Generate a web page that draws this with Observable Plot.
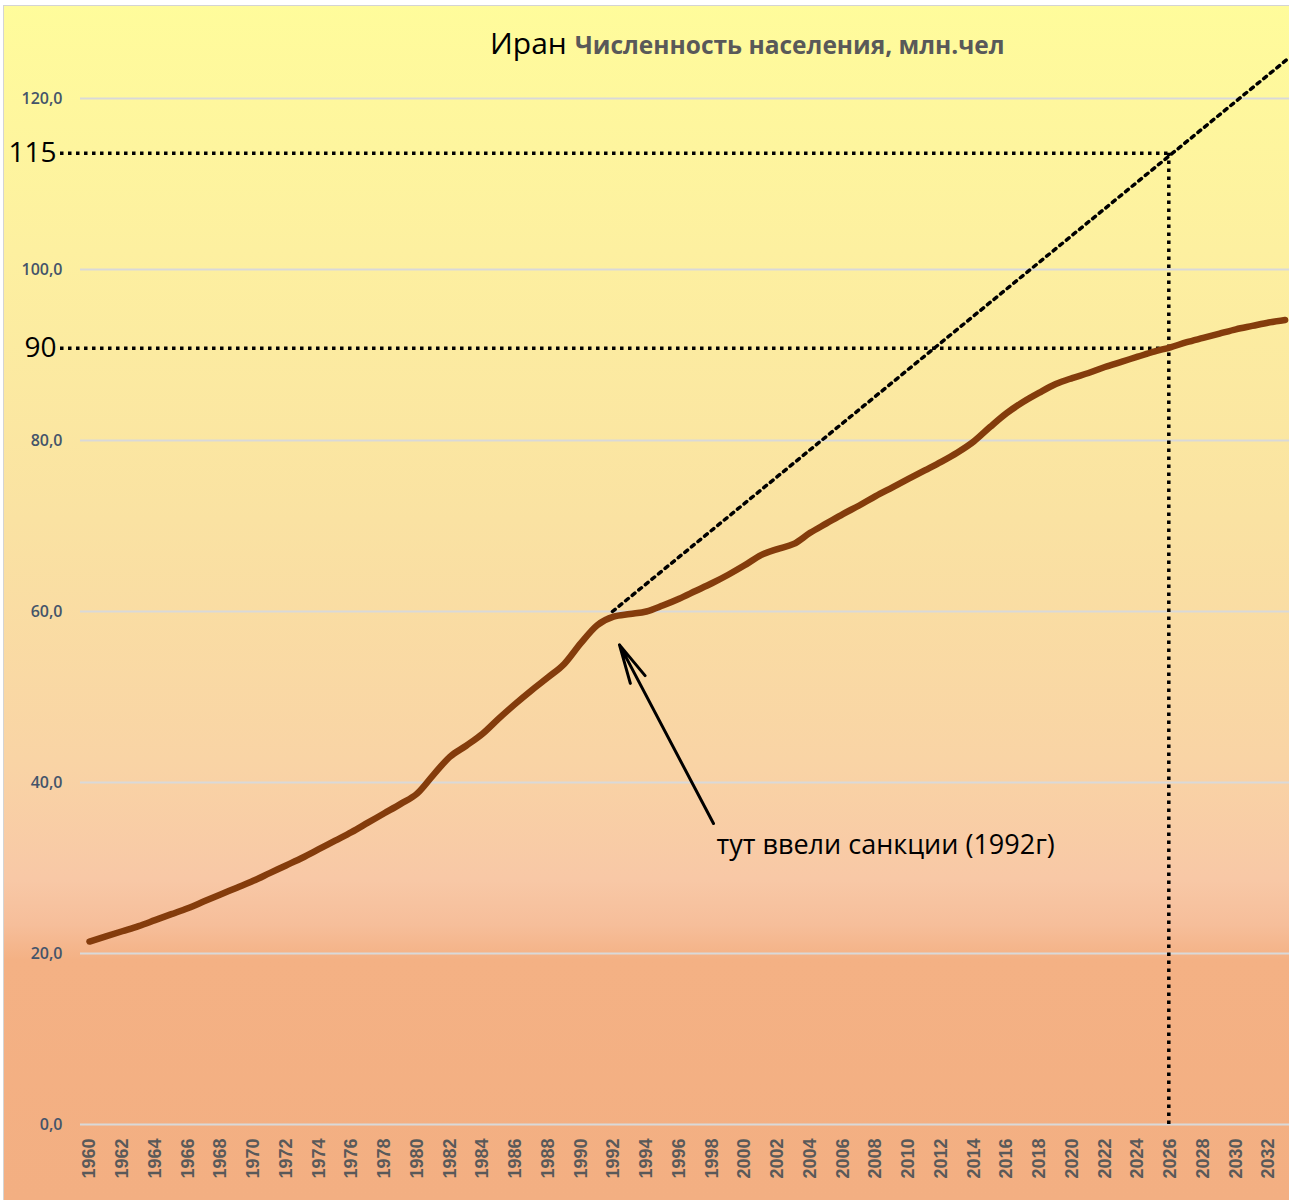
<!DOCTYPE html>
<html>
<head>
<meta charset="utf-8">
<script src="https://cdn.jsdelivr.net/npm/d3@7"></script>
<script src="https://cdn.jsdelivr.net/npm/@observablehq/plot@0.6"></script>
<style>
  body { margin: 0; background: #fff; }
  #wrap {
    position: relative; width: 1289px; height: 1200px; overflow: hidden;
    background: linear-gradient(to bottom, #FFFC9B 0px, #FDF0A0 250px, #FAE2A2 520px, #F9D4A5 760px, #F8C8A6 880px, #F6BE9A 925px, #F4B184 960px, #F3AF82 1200px);
    box-shadow: inset 3px 5px 0 #ffffff, inset 4px 6px 0 #d4d4d4;
  }
  #chart svg { display: block; }
  #title { position: absolute; left: 490px; top: 28px; white-space: nowrap; font-family: "Open Sans", sans-serif; line-height: 1; }
  #title .main { font-size: 30px; color: #000; }
  #title .sub { font-size: 24.5px; font-weight: bold; color: #595959; margin-left: 4px; }
</style>
</head>
<body>
<div id="wrap">
  <div id="chart"></div>
  <div id="title"><span class="main">Иран</span> <span class="sub">Численность населения, млн.чел</span></div>
</div>
<script>
// ---- data ----
const years = [1960,1961,1962,1963,1964,1965,1966,1967,1968,1969,
  1970,1971,1972,1973,1974,1975,1976,1977,1978,1979,
  1980,1981,1982,1983,1984,1985,1986,1987,1988,1989,
  1990,1991,1992,1993,1994,1995,1996,1997,1998,1999,
  2000,2001,2002,2003,2004,2005,2006,2007,2008,2009,
  2010,2011,2012,2013,2014,2015,2016,2017,2018,2019,
  2020,2021,2022,2023,2024,2025,2026,2027,2028,2029,
  2030,2031,2032,2033];
const population = [21.4,22.0,22.6,23.2,23.9,24.6,25.3,26.1,26.9,27.7,
  28.5,29.4,30.3,31.2,32.2,33.2,34.2,35.3,36.4,37.5,
  38.7,40.9,43.0,44.3,45.7,47.5,49.2,50.8,52.3,53.9,
  56.3,58.4,59.4,59.7,60.0,60.7,61.5,62.4,63.3,64.3,
  65.4,66.6,67.3,67.9,69.2,70.3,71.4,72.4,73.5,74.5,
  75.5,76.5,77.5,78.6,79.9,81.6,83.2,84.5,85.6,86.6,
  87.3,87.9,88.6,89.2,89.8,90.4,90.9,91.5,92.0,92.5,
  93.0,93.4,93.8,94.1];
const xTickYears = [1960,1962,1964,1966,1968,1970,1972,1974,1976,1978,
  1980,1982,1984,1986,1988,1990,1992,1994,1996,1998,
  2000,2002,2004,2006,2008,2010,2012,2014,2016,2018,
  2020,2022,2024,2026,2028,2030,2032];
const yTickValues = [0,20,40,60,80,100,120];

// trend (hand-drawn dotted extrapolation from 1992)
const trendYears = [1991.93, 2033.27];
const trendValues = [60.0, 124.8];
// reference levels (as drawn) and their labels
const refLevels = [113.6, 90.8];
const refLabels = ["115", "90"];
const refStartYear = 1958.23;
const refYear = 2025.9;
// annotation
const noteText = ["тут ввели санкции (1992г)"];
const noteYear = [1998.28];
const noteValue = [32.6];
const arrowFrom = [1998.1, 35.2];
const arrowTo = [1992.36, 56.1];

// ---- build ----
const data = years.map((year, i) => ({year, value: population[i]}));
const trend = trendYears.map((year, i) => ({year, value: trendValues[i]}));
const refs = refLevels.map((v, i) => ({value: v, label: refLabels[i]}));
const dots = {stroke: "#000", strokeWidth: 3.5, strokeDasharray: "3.5,4.5"};

const chart = Plot.plot({
  width: 1289,
  height: 1200,
  marginLeft: 80,
  marginRight: 0,
  marginTop: 98,
  marginBottom: 76,
  style: {background: "transparent", overflow: "visible"},
  x: {domain: [1959.45, 2033.27], label: null},
  y: {domain: [0, 120], label: null},
  marks: [
    Plot.gridY(yTickValues, {stroke: "#D9D9D9", strokeOpacity: 1, strokeWidth: 2}),
    Plot.axisY(yTickValues, {
      tickSize: 0, tickPadding: 18,
      tickFormat: d => d.toFixed(1).replace(".", ","),
      fontSize: 16, fontWeight: 600, fontFamily: "Open Sans", fill: "#44546A", label: null
    }),
    Plot.axisX(xTickYears, {
      tickSize: 0, tickPadding: 14, tickRotate: -90,
      tickFormat: d => String(d),
      fontSize: 18, fontWeight: "bold", fontFamily: "Liberation Sans", fill: "#595959", label: null
    }),
    Plot.line(trend, {x: "year", y: "value", ...dots, strokeDasharray: "3.5,5"}),
    Plot.ruleY(refs, {y: "value", x1: refStartYear, x2: refYear, ...dots}),
    Plot.ruleX([refYear], {y1: 0, y2: refLevels[0], ...dots}),
    Plot.text(refs, {y: "value", x: 1957.98, text: "label", textAnchor: "end", fontSize: 28, fontFamily: "Open Sans", fill: "#000"}),
    Plot.line(data, {x: "year", y: "value", stroke: "#843C0C", strokeWidth: 6.5, curve: "monotone-x", strokeLinecap: "round"}),
    Plot.arrow([0], {x1: arrowFrom[0], y1: arrowFrom[1], x2: arrowTo[0], y2: arrowTo[1], stroke: "#000", strokeWidth: 3, headLength: 20, headAngle: 24}),
    Plot.text(noteText, {x: noteYear, y: noteValue, text: d => d, textAnchor: "start", fontSize: 27, fontFamily: "Open Sans", fill: "#000"})
  ]
});
document.getElementById("chart").appendChild(chart);
</script>
</body>
</html>
